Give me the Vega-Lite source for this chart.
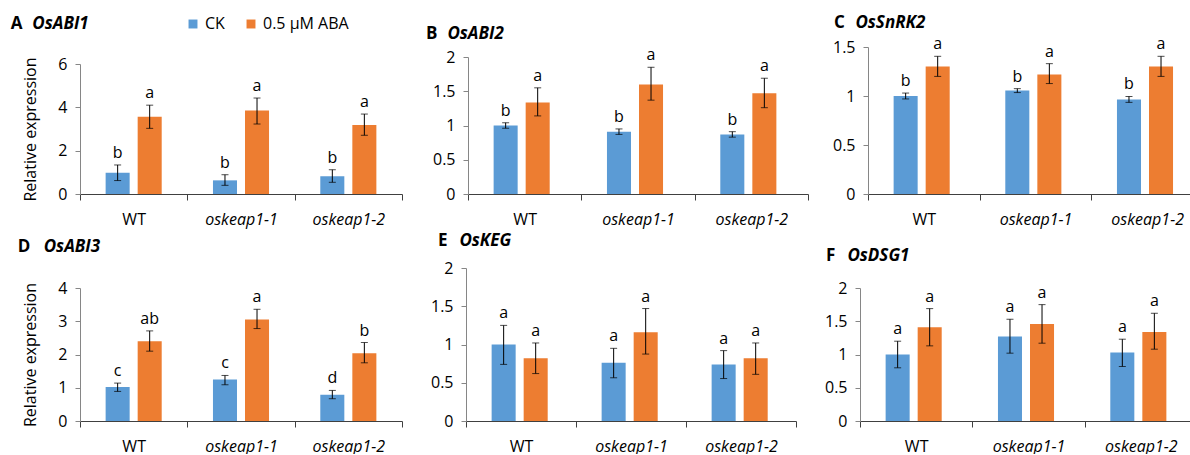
{
  "$schema": "https://vega.github.io/schema/vega-lite/v6.json",
  "padding": {"left": 10, "top": 13, "right": 0, "bottom": 0},
  "datasets": {
    "d": [
      {"gene": "OsABI1", "genotype": "WT", "treatment": "CK", "mean": 0.98, "lo": 0.62, "hi": 1.34, "label": "b"},
      {"gene": "OsABI1", "genotype": "WT", "treatment": "0.5 µM ABA", "mean": 3.57, "lo": 3.03, "hi": 4.10, "label": "a"},
      {"gene": "OsABI1", "genotype": "oskeap1-1", "treatment": "CK", "mean": 0.63, "lo": 0.40, "hi": 0.89, "label": "b"},
      {"gene": "OsABI1", "genotype": "oskeap1-1", "treatment": "0.5 µM ABA", "mean": 3.85, "lo": 3.23, "hi": 4.43, "label": "a"},
      {"gene": "OsABI1", "genotype": "oskeap1-2", "treatment": "CK", "mean": 0.82, "lo": 0.54, "hi": 1.12, "label": "b"},
      {"gene": "OsABI1", "genotype": "oskeap1-2", "treatment": "0.5 µM ABA", "mean": 3.18, "lo": 2.71, "hi": 3.69, "label": "a"},
      {"gene": "OsABI2", "genotype": "WT", "treatment": "CK", "mean": 1.0, "lo": 0.96, "hi": 1.04, "label": "b"},
      {"gene": "OsABI2", "genotype": "WT", "treatment": "0.5 µM ABA", "mean": 1.335, "lo": 1.14, "hi": 1.55, "label": "a"},
      {"gene": "OsABI2", "genotype": "oskeap1-1", "treatment": "CK", "mean": 0.91, "lo": 0.87, "hi": 0.95, "label": "b"},
      {"gene": "OsABI2", "genotype": "oskeap1-1", "treatment": "0.5 µM ABA", "mean": 1.60, "lo": 1.37, "hi": 1.85, "label": "a"},
      {"gene": "OsABI2", "genotype": "oskeap1-2", "treatment": "CK", "mean": 0.87, "lo": 0.83, "hi": 0.91, "label": "b"},
      {"gene": "OsABI2", "genotype": "oskeap1-2", "treatment": "0.5 µM ABA", "mean": 1.47, "lo": 1.26, "hi": 1.69, "label": "a"},
      {"gene": "OsSnRK2", "genotype": "WT", "treatment": "CK", "mean": 1.0, "lo": 0.97, "hi": 1.03, "label": "b"},
      {"gene": "OsSnRK2", "genotype": "WT", "treatment": "0.5 µM ABA", "mean": 1.30, "lo": 1.20, "hi": 1.405, "label": "a"},
      {"gene": "OsSnRK2", "genotype": "oskeap1-1", "treatment": "CK", "mean": 1.055, "lo": 1.035, "hi": 1.075, "label": "b"},
      {"gene": "OsSnRK2", "genotype": "oskeap1-1", "treatment": "0.5 µM ABA", "mean": 1.22, "lo": 1.127, "hi": 1.33, "label": "a"},
      {"gene": "OsSnRK2", "genotype": "oskeap1-2", "treatment": "CK", "mean": 0.964, "lo": 0.935, "hi": 0.995, "label": "b"},
      {"gene": "OsSnRK2", "genotype": "oskeap1-2", "treatment": "0.5 µM ABA", "mean": 1.30, "lo": 1.20, "hi": 1.405, "label": "a"},
      {"gene": "OsABI3", "genotype": "WT", "treatment": "CK", "mean": 1.02, "lo": 0.89, "hi": 1.14, "label": "c"},
      {"gene": "OsABI3", "genotype": "WT", "treatment": "0.5 µM ABA", "mean": 2.40, "lo": 2.10, "hi": 2.71, "label": "ab"},
      {"gene": "OsABI3", "genotype": "oskeap1-1", "treatment": "CK", "mean": 1.25, "lo": 1.09, "hi": 1.37, "label": "c"},
      {"gene": "OsABI3", "genotype": "oskeap1-1", "treatment": "0.5 µM ABA", "mean": 3.05, "lo": 2.78, "hi": 3.36, "label": "a"},
      {"gene": "OsABI3", "genotype": "oskeap1-2", "treatment": "CK", "mean": 0.79, "lo": 0.67, "hi": 0.92, "label": "d"},
      {"gene": "OsABI3", "genotype": "oskeap1-2", "treatment": "0.5 µM ABA", "mean": 2.04, "lo": 1.75, "hi": 2.36, "label": "b"},
      {"gene": "OsKEG", "genotype": "WT", "treatment": "CK", "mean": 1.0, "lo": 0.74, "hi": 1.25, "label": "a"},
      {"gene": "OsKEG", "genotype": "WT", "treatment": "0.5 µM ABA", "mean": 0.82, "lo": 0.62, "hi": 1.02, "label": "a"},
      {"gene": "OsKEG", "genotype": "oskeap1-1", "treatment": "CK", "mean": 0.76, "lo": 0.565, "hi": 0.95, "label": "a"},
      {"gene": "OsKEG", "genotype": "oskeap1-1", "treatment": "0.5 µM ABA", "mean": 1.16, "lo": 0.875, "hi": 1.47, "label": "a"},
      {"gene": "OsKEG", "genotype": "oskeap1-2", "treatment": "CK", "mean": 0.74, "lo": 0.555, "hi": 0.92, "label": "a"},
      {"gene": "OsKEG", "genotype": "oskeap1-2", "treatment": "0.5 µM ABA", "mean": 0.82, "lo": 0.61, "hi": 1.02, "label": "a"},
      {"gene": "OsDSG1", "genotype": "WT", "treatment": "CK", "mean": 1.0, "lo": 0.80, "hi": 1.20, "label": "a"},
      {"gene": "OsDSG1", "genotype": "WT", "treatment": "0.5 µM ABA", "mean": 1.41, "lo": 1.13, "hi": 1.69, "label": "a"},
      {"gene": "OsDSG1", "genotype": "oskeap1-1", "treatment": "CK", "mean": 1.27, "lo": 1.02, "hi": 1.53, "label": "a"},
      {"gene": "OsDSG1", "genotype": "oskeap1-1", "treatment": "0.5 µM ABA", "mean": 1.46, "lo": 1.17, "hi": 1.75, "label": "a"},
      {"gene": "OsDSG1", "genotype": "oskeap1-2", "treatment": "CK", "mean": 1.03, "lo": 0.82, "hi": 1.23, "label": "a"},
      {"gene": "OsDSG1", "genotype": "oskeap1-2", "treatment": "0.5 µM ABA", "mean": 1.34, "lo": 1.08, "hi": 1.62, "label": "a"}
    ]
  },
  "data": {"name": "d"},
  "spacing": 5,
  "vconcat": [
    {
      "spacing": 23,
      "hconcat": [
        {
          "width": 322, "height": 147,
          "title": {"text": "A", "subtitle": "\u200b\u2002\u2002\u00a0OsABI1", "dx": -12, "offset": 14.5},
          "transform": [{"filter": "datum.gene == 'OsABI1'"}],
          "encoding": {
            "x": {"field": "genotype", "type": "nominal", "sort": ["WT", "oskeap1-1", "oskeap1-2"], "title": null, "scale": {"paddingInner": 0, "paddingOuter": 0}},
            "xOffset": {"field": "treatment", "type": "nominal", "sort": ["CK", "0.5 µM ABA"], "scale": {"paddingInner": 0.25, "paddingOuter": 0.8}}
          },
          "layer": [
            {"mark": {"type": "bar"}, "encoding": {"y": {"field": "mean", "type": "quantitative", "title": "Relative expression", "scale": {"domain": [0, 6], "rangeMax": 17}, "axis": {"values": [0, 2, 4, 6], "format": "~g", "labelOverlap": false}}, "color": {"field": "treatment", "type": "nominal", "sort": ["CK", "0.5 µM ABA"], "scale": {"domain": ["CK", "0.5 µM ABA"], "range": ["#5B9BD5", "#ED7D31"]}, "legend": {"title": null}}}},
            {"mark": {"type": "rule", "color": "#000", "strokeWidth": 1}, "encoding": {"y": {"field": "lo", "type": "quantitative", "title": "Relative expression", "scale": {"domain": [0, 6], "rangeMax": 17}, "axis": {"values": [0, 2, 4, 6], "format": "~g", "labelOverlap": false}}, "y2": {"field": "hi"}}},
            {"mark": {"type": "tick", "orient": "horizontal", "color": "#000", "size": 7, "thickness": 1}, "encoding": {"y": {"field": "lo", "type": "quantitative", "title": "Relative expression", "scale": {"domain": [0, 6], "rangeMax": 17}, "axis": {"values": [0, 2, 4, 6], "format": "~g", "labelOverlap": false}}}},
            {"mark": {"type": "tick", "orient": "horizontal", "color": "#000", "size": 7, "thickness": 1}, "encoding": {"y": {"field": "hi", "type": "quantitative", "title": "Relative expression", "scale": {"domain": [0, 6], "rangeMax": 17}, "axis": {"values": [0, 2, 4, 6], "format": "~g", "labelOverlap": false}}}},
            {"mark": {"type": "text", "baseline": "alphabetic", "dy": -7, "fontSize": 16}, "encoding": {"y": {"field": "hi", "type": "quantitative", "title": "Relative expression", "scale": {"domain": [0, 6], "rangeMax": 17}, "axis": {"values": [0, 2, 4, 6], "format": "~g", "labelOverlap": false}}, "text": {"field": "label"}}}
          ]
        },
        {
          "width": 340, "height": 147,
          "title": {"text": "B", "subtitle": "\u200b\u2002\u2002\u00a0OsABI2", "frame": "group", "dx": -42, "offset": 4},
          "transform": [{"filter": "datum.gene == 'OsABI2'"}],
          "encoding": {
            "x": {"field": "genotype", "type": "nominal", "sort": ["WT", "oskeap1-1", "oskeap1-2"], "title": null, "scale": {"paddingInner": 0, "paddingOuter": 0}},
            "xOffset": {"field": "treatment", "type": "nominal", "sort": ["CK", "0.5 µM ABA"], "scale": {"paddingInner": 0.25, "paddingOuter": 0.8}}
          },
          "layer": [
            {"mark": {"type": "bar"}, "encoding": {"y": {"field": "mean", "type": "quantitative", "title": null, "scale": {"domain": [0, 2], "rangeMax": 10}, "axis": {"values": [0, 0.5, 1, 1.5, 2], "format": "~g", "labelOverlap": false}}, "color": {"field": "treatment", "type": "nominal", "sort": ["CK", "0.5 µM ABA"], "scale": {"domain": ["CK", "0.5 µM ABA"], "range": ["#5B9BD5", "#ED7D31"]}, "legend": {"title": null}}}},
            {"mark": {"type": "rule", "color": "#000", "strokeWidth": 1}, "encoding": {"y": {"field": "lo", "type": "quantitative", "title": null, "scale": {"domain": [0, 2], "rangeMax": 10}, "axis": {"values": [0, 0.5, 1, 1.5, 2], "format": "~g", "labelOverlap": false}}, "y2": {"field": "hi"}}},
            {"mark": {"type": "tick", "orient": "horizontal", "color": "#000", "size": 7, "thickness": 1}, "encoding": {"y": {"field": "lo", "type": "quantitative", "title": null, "scale": {"domain": [0, 2], "rangeMax": 10}, "axis": {"values": [0, 0.5, 1, 1.5, 2], "format": "~g", "labelOverlap": false}}}},
            {"mark": {"type": "tick", "orient": "horizontal", "color": "#000", "size": 7, "thickness": 1}, "encoding": {"y": {"field": "hi", "type": "quantitative", "title": null, "scale": {"domain": [0, 2], "rangeMax": 10}, "axis": {"values": [0, 0.5, 1, 1.5, 2], "format": "~g", "labelOverlap": false}}}},
            {"mark": {"type": "text", "baseline": "alphabetic", "dy": -7, "fontSize": 16}, "encoding": {"y": {"field": "hi", "type": "quantitative", "title": null, "scale": {"domain": [0, 2], "rangeMax": 10}, "axis": {"values": [0, 0.5, 1, 1.5, 2], "format": "~g", "labelOverlap": false}}, "text": {"field": "label"}}}
          ]
        },
        {
          "width": 335, "height": 147,
          "title": {"text": "C", "subtitle": "\u200b\u2002\u2002\u00a0OsSnRK2", "frame": "group", "dx": -34, "offset": 4.5},
          "transform": [{"filter": "datum.gene == 'OsSnRK2'"}],
          "encoding": {
            "x": {"field": "genotype", "type": "nominal", "sort": ["WT", "oskeap1-1", "oskeap1-2"], "title": null, "scale": {"paddingInner": 0, "paddingOuter": 0}},
            "xOffset": {"field": "treatment", "type": "nominal", "sort": ["CK", "0.5 µM ABA"], "scale": {"paddingInner": 0.25, "paddingOuter": 0.8}}
          },
          "layer": [
            {"mark": {"type": "bar"}, "encoding": {"y": {"field": "mean", "type": "quantitative", "title": null, "scale": {"domain": [0, 1.5]}, "axis": {"values": [0, 0.5, 1, 1.5], "format": "~g", "labelOverlap": false}}, "color": {"field": "treatment", "type": "nominal", "sort": ["CK", "0.5 µM ABA"], "scale": {"domain": ["CK", "0.5 µM ABA"], "range": ["#5B9BD5", "#ED7D31"]}, "legend": {"title": null}}}},
            {"mark": {"type": "rule", "color": "#000", "strokeWidth": 1}, "encoding": {"y": {"field": "lo", "type": "quantitative", "title": null, "scale": {"domain": [0, 1.5]}, "axis": {"values": [0, 0.5, 1, 1.5], "format": "~g", "labelOverlap": false}}, "y2": {"field": "hi"}}},
            {"mark": {"type": "tick", "orient": "horizontal", "color": "#000", "size": 7, "thickness": 1}, "encoding": {"y": {"field": "lo", "type": "quantitative", "title": null, "scale": {"domain": [0, 1.5]}, "axis": {"values": [0, 0.5, 1, 1.5], "format": "~g", "labelOverlap": false}}}},
            {"mark": {"type": "tick", "orient": "horizontal", "color": "#000", "size": 7, "thickness": 1}, "encoding": {"y": {"field": "hi", "type": "quantitative", "title": null, "scale": {"domain": [0, 1.5]}, "axis": {"values": [0, 0.5, 1, 1.5], "format": "~g", "labelOverlap": false}}}},
            {"mark": {"type": "text", "baseline": "alphabetic", "dy": -7, "fontSize": 16}, "encoding": {"y": {"field": "hi", "type": "quantitative", "title": null, "scale": {"domain": [0, 1.5]}, "axis": {"values": [0, 0.5, 1, 1.5], "format": "~g", "labelOverlap": false}}, "text": {"field": "label"}}}
          ]
        }
      ]
    },
    {
      "spacing": 27,
      "hconcat": [
        {
          "width": 322, "height": 153,
          "title": {"text": "D", "subtitle": "\u200b\u2002\u2002\u00a0\u00a0OsABI3", "dx": -5, "offset": 12},
          "transform": [{"filter": "datum.gene == 'OsABI3'"}],
          "encoding": {
            "x": {"field": "genotype", "type": "nominal", "sort": ["WT", "oskeap1-1", "oskeap1-2"], "title": null, "scale": {"paddingInner": 0, "paddingOuter": 0}},
            "xOffset": {"field": "treatment", "type": "nominal", "sort": ["CK", "0.5 µM ABA"], "scale": {"paddingInner": 0.25, "paddingOuter": 0.8}}
          },
          "layer": [
            {"mark": {"type": "bar"}, "encoding": {"y": {"field": "mean", "type": "quantitative", "title": "Relative expression", "scale": {"domain": [0, 4], "rangeMax": 20}, "axis": {"values": [0, 1, 2, 3, 4], "format": "~g", "labelOverlap": false}}, "color": {"field": "treatment", "type": "nominal", "sort": ["CK", "0.5 µM ABA"], "scale": {"domain": ["CK", "0.5 µM ABA"], "range": ["#5B9BD5", "#ED7D31"]}, "legend": {"title": null}}}},
            {"mark": {"type": "rule", "color": "#000", "strokeWidth": 1}, "encoding": {"y": {"field": "lo", "type": "quantitative", "title": "Relative expression", "scale": {"domain": [0, 4], "rangeMax": 20}, "axis": {"values": [0, 1, 2, 3, 4], "format": "~g", "labelOverlap": false}}, "y2": {"field": "hi"}}},
            {"mark": {"type": "tick", "orient": "horizontal", "color": "#000", "size": 7, "thickness": 1}, "encoding": {"y": {"field": "lo", "type": "quantitative", "title": "Relative expression", "scale": {"domain": [0, 4], "rangeMax": 20}, "axis": {"values": [0, 1, 2, 3, 4], "format": "~g", "labelOverlap": false}}}},
            {"mark": {"type": "tick", "orient": "horizontal", "color": "#000", "size": 7, "thickness": 1}, "encoding": {"y": {"field": "hi", "type": "quantitative", "title": "Relative expression", "scale": {"domain": [0, 4], "rangeMax": 20}, "axis": {"values": [0, 1, 2, 3, 4], "format": "~g", "labelOverlap": false}}}},
            {"mark": {"type": "text", "baseline": "alphabetic", "dy": -7, "fontSize": 16}, "encoding": {"y": {"field": "hi", "type": "quantitative", "title": "Relative expression", "scale": {"domain": [0, 4], "rangeMax": 20}, "axis": {"values": [0, 1, 2, 3, 4], "format": "~g", "labelOverlap": false}}, "text": {"field": "label"}}}
          ]
        },
        {
          "width": 330, "height": 153,
          "title": {"text": "E", "subtitle": "\u200b\u2002\u2002\u00a0OsKEG", "frame": "group", "dx": -28, "offset": 10},
          "transform": [{"filter": "datum.gene == 'OsKEG'"}],
          "encoding": {
            "x": {"field": "genotype", "type": "nominal", "sort": ["WT", "oskeap1-1", "oskeap1-2"], "title": null, "scale": {"paddingInner": 0, "paddingOuter": 0}},
            "xOffset": {"field": "treatment", "type": "nominal", "sort": ["CK", "0.5 µM ABA"], "scale": {"paddingInner": 0.25, "paddingOuter": 0.8}}
          },
          "layer": [
            {"mark": {"type": "bar"}, "encoding": {"y": {"field": "mean", "type": "quantitative", "title": null, "scale": {"domain": [0, 2]}, "axis": {"values": [0, 0.5, 1, 1.5, 2], "format": "~g", "labelOverlap": false}}, "color": {"field": "treatment", "type": "nominal", "sort": ["CK", "0.5 µM ABA"], "scale": {"domain": ["CK", "0.5 µM ABA"], "range": ["#5B9BD5", "#ED7D31"]}, "legend": {"title": null}}}},
            {"mark": {"type": "rule", "color": "#000", "strokeWidth": 1}, "encoding": {"y": {"field": "lo", "type": "quantitative", "title": null, "scale": {"domain": [0, 2]}, "axis": {"values": [0, 0.5, 1, 1.5, 2], "format": "~g", "labelOverlap": false}}, "y2": {"field": "hi"}}},
            {"mark": {"type": "tick", "orient": "horizontal", "color": "#000", "size": 7, "thickness": 1}, "encoding": {"y": {"field": "lo", "type": "quantitative", "title": null, "scale": {"domain": [0, 2]}, "axis": {"values": [0, 0.5, 1, 1.5, 2], "format": "~g", "labelOverlap": false}}}},
            {"mark": {"type": "tick", "orient": "horizontal", "color": "#000", "size": 7, "thickness": 1}, "encoding": {"y": {"field": "hi", "type": "quantitative", "title": null, "scale": {"domain": [0, 2]}, "axis": {"values": [0, 0.5, 1, 1.5, 2], "format": "~g", "labelOverlap": false}}}},
            {"mark": {"type": "text", "baseline": "alphabetic", "dy": -7, "fontSize": 16}, "encoding": {"y": {"field": "hi", "type": "quantitative", "title": null, "scale": {"domain": [0, 2]}, "axis": {"values": [0, 0.5, 1, 1.5, 2], "format": "~g", "labelOverlap": false}}, "text": {"field": "label"}}}
          ]
        },
        {
          "width": 337, "height": 153,
          "title": {"text": "F", "subtitle": "\u200b\u2002\u2002\u00a0OsDSG1", "frame": "group", "dx": -34, "offset": 3},
          "transform": [{"filter": "datum.gene == 'OsDSG1'"}],
          "encoding": {
            "x": {"field": "genotype", "type": "nominal", "sort": ["WT", "oskeap1-1", "oskeap1-2"], "title": null, "scale": {"paddingInner": 0, "paddingOuter": 0}},
            "xOffset": {"field": "treatment", "type": "nominal", "sort": ["CK", "0.5 µM ABA"], "scale": {"paddingInner": 0.25, "paddingOuter": 0.8}}
          },
          "layer": [
            {"mark": {"type": "bar"}, "encoding": {"y": {"field": "mean", "type": "quantitative", "title": null, "scale": {"domain": [0, 2], "rangeMax": 20}, "axis": {"values": [0, 0.5, 1, 1.5, 2], "format": "~g", "labelOverlap": false}}, "color": {"field": "treatment", "type": "nominal", "sort": ["CK", "0.5 µM ABA"], "scale": {"domain": ["CK", "0.5 µM ABA"], "range": ["#5B9BD5", "#ED7D31"]}, "legend": {"title": null}}}},
            {"mark": {"type": "rule", "color": "#000", "strokeWidth": 1}, "encoding": {"y": {"field": "lo", "type": "quantitative", "title": null, "scale": {"domain": [0, 2], "rangeMax": 20}, "axis": {"values": [0, 0.5, 1, 1.5, 2], "format": "~g", "labelOverlap": false}}, "y2": {"field": "hi"}}},
            {"mark": {"type": "tick", "orient": "horizontal", "color": "#000", "size": 7, "thickness": 1}, "encoding": {"y": {"field": "lo", "type": "quantitative", "title": null, "scale": {"domain": [0, 2], "rangeMax": 20}, "axis": {"values": [0, 0.5, 1, 1.5, 2], "format": "~g", "labelOverlap": false}}}},
            {"mark": {"type": "tick", "orient": "horizontal", "color": "#000", "size": 7, "thickness": 1}, "encoding": {"y": {"field": "hi", "type": "quantitative", "title": null, "scale": {"domain": [0, 2], "rangeMax": 20}, "axis": {"values": [0, 0.5, 1, 1.5, 2], "format": "~g", "labelOverlap": false}}}},
            {"mark": {"type": "text", "baseline": "alphabetic", "dy": -7, "fontSize": 16}, "encoding": {"y": {"field": "hi", "type": "quantitative", "title": null, "scale": {"domain": [0, 2], "rangeMax": 20}, "axis": {"values": [0, 0.5, 1, 1.5, 2], "format": "~g", "labelOverlap": false}}, "text": {"field": "label"}}}
          ]
        }
      ]
    }
  ],
  "resolve": {"scale": {"y": "independent", "x": "independent"}},
  "config": {
    "font": "Open Sans",
    "view": {"stroke": null},
    "axis": {"grid": false, "labelFontSize": 16, "titleFontSize": 16, "titleFontWeight": "normal", "labelColor": "#000", "titleColor": "#000"},
    "axisY": {"domainColor": "#868686", "tickColor": "#868686", "tickSize": 5, "labelPadding": 8, "titlePadding": 19, "labelOverlap": false},
    "axisX": {"domainColor": "#404040", "tickColor": "#404040", "tickSize": 6, "tickBand": "extent", "labelAngle": 0, "labelPadding": 11, "labelFontStyle": {"expr": "datum.value == 'WT' ? 'normal' : 'italic'"}},
    "title": {"fontSize": 17, "fontWeight": "bold", "anchor": "start", "frame": "bounds", "color": "#000", "subtitleFontSize": 17, "subtitleFontWeight": "bold", "subtitleFontStyle": "italic", "subtitleColor": "#000", "subtitlePadding": -17},
    "legend": {"orient": "none", "legendX": 105, "legendY": -31, "direction": "horizontal", "symbolType": "square", "symbolSize": 80, "symbolStrokeWidth": 0, "labelFontSize": 16, "labelColor": "#000", "columnPadding": 18, "padding": 0}
  }
}
